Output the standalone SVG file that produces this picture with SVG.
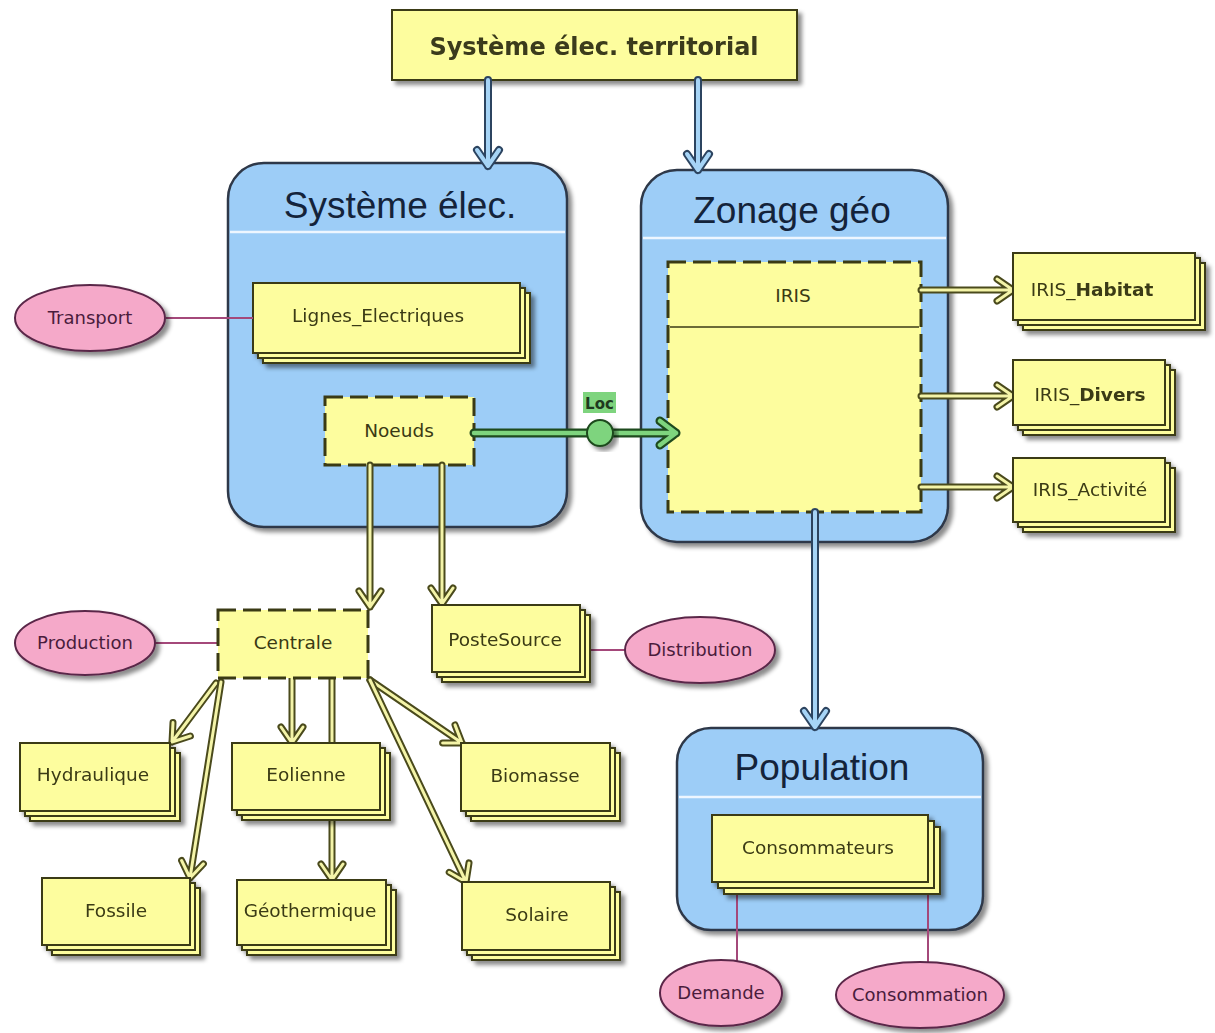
<svg xmlns="http://www.w3.org/2000/svg" xmlns:xlink="http://www.w3.org/1999/xlink" width="1215" height="1033" viewBox="0 0 1215 1033">
<style>
.bx{fill:#fdfd9e;stroke:#3a3a14;stroke-width:2}
.dbx{fill:#fdfd9e;stroke:#3a3a14;stroke-width:3;stroke-dasharray:18 7}
.ct{fill:#9dcdf7;stroke:#2e3848;stroke-width:2.5}
.sep{stroke:#eef6ff;stroke-width:2.5}
.el{fill:#f5a9c9;stroke:#5a2848;stroke-width:2}
.t{font-family:"DejaVu Sans",Verdana,sans-serif;font-size:18.5px;fill:#3a3a14;text-anchor:middle}
.te{font-family:"DejaVu Sans",Verdana,sans-serif;font-size:18px;fill:#4a1c3c;text-anchor:middle}
.ti{font-family:"Liberation Sans",Arial,sans-serif;font-size:37px;fill:#14233a;text-anchor:middle}
.yo{fill:none;stroke:#4a4a1c;stroke-width:7;stroke-linecap:round;stroke-linejoin:round}
.yi{fill:none;stroke:#f4f4a8;stroke-width:3;stroke-linecap:round;stroke-linejoin:round}
.bo{fill:none;stroke:#2c4460;stroke-width:8;stroke-linecap:round;stroke-linejoin:round}
.bi{fill:none;stroke:#a6d4f6;stroke-width:4;stroke-linecap:round;stroke-linejoin:round}
.go{fill:none;stroke:#1e4a1e;stroke-width:9;stroke-linecap:round;stroke-linejoin:round}
.gi{fill:none;stroke:#7ed47e;stroke-width:4.5;stroke-linecap:round;stroke-linejoin:round}
.pk{stroke:#a4487a;stroke-width:2;fill:none}
</style>
<defs>
<filter id="sh" x="-10%" y="-10%" width="130%" height="130%">
<feDropShadow dx="4" dy="4" stdDeviation="2" flood-color="#000" flood-opacity="0.45"/>
</filter>
<path id="a1" d="M370,465 L370,607 M359,591 L370,607 L381,591"/>
<path id="a2" d="M442,465 L442,604 M431,588 L442,604 L453,588"/>
<path id="a3" d="M216,683 L172,742 M190.4,736 L172,742 L173,722.6"/>
<path id="a4" d="M221,682 L190,878 M203.4,863.9 L190,878 L181.6,860.5"/>
<path id="a5" d="M292,678 L292,743 M281,727 L292,743 L303,727"/>
<path id="a6" d="M332,678 L332,880 M321,864 L332,880 L343,864"/>
<path id="a7" d="M370,680 L462,743 M442.6,743.1 L462,743 L455,724.9"/>
<path id="a8" d="M370,680 L466,882 M449.2,872.3 L466,882 L469,862.9"/>
<path id="a9" d="M921,290 L1013,290 M997,279 L1013,290 L997,301"/>
<path id="a10" d="M921,396 L1013,396 M997,385 L1013,396 L997,407"/>
<path id="a11" d="M921,487 L1013,487 M997,476 L1013,487 L997,498"/>
<path id="b1" d="M488,80 L488,166 M477,150 L488,166 L499,150"/>
<path id="b2" d="M698,80 L698,170 M687,154 L698,170 L709,154"/>
<path id="b3" d="M815,512 L815,727 M804,711 L815,727 L826,711"/>
<path id="g1" d="M474,433 L587,433 M613,433 L676,433 M660,421 L676,433 L660,445"/>
</defs>

<g id="territorial" filter="url(#sh)">
<rect x="392" y="10" width="405" height="70" fill="#fdfd9e" stroke="#3a3a14" stroke-width="2"/>
<text x="594" y="55" font-family="'DejaVu Sans',Verdana,sans-serif" font-size="24" font-weight="bold" fill="#3a3a1a" text-anchor="middle">Système élec. territorial</text>
</g>

<g id="systeme-elec">
<rect class="ct" x="228" y="163" width="339" height="364" rx="36" filter="url(#sh)"/>
<line class="sep" x1="230" y1="232" x2="565" y2="232"/>
<text class="ti" x="400" y="218">Système élec.</text>
</g>

<g id="zonage-geo">
<rect class="ct" x="641" y="170" width="307" height="372" rx="36" filter="url(#sh)"/>
<line class="sep" x1="643" y1="238" x2="946" y2="238"/>
<text class="ti" x="792" y="223">Zonage géo</text>
</g>

<g id="population">
<rect class="ct" x="677" y="728" width="306" height="202" rx="34" filter="url(#sh)"/>
<line class="sep" x1="679" y1="797" x2="981" y2="797"/>
<text class="ti" x="822" y="780">Population</text>
</g>

<g id="lignes-electriques" filter="url(#sh)">
<rect class="bx" x="263" y="293" width="267" height="70"/>
<rect class="bx" x="258" y="288" width="267" height="70"/>
<rect class="bx" x="253" y="283" width="267" height="70"/>
<text class="t" x="378" y="322">Lignes_Electriques</text>
</g>

<g id="noeuds">
<rect class="dbx" x="325" y="397" width="149" height="68"/>
<text class="t" x="399" y="437">Noeuds</text>
</g>

<g id="iris">
<rect class="dbx" x="668" y="262" width="253" height="250"/>
<line x1="670" y1="327" x2="919" y2="327" stroke="#3a3a14" stroke-width="1.5"/>
<text class="t" x="793" y="302">IRIS</text>
</g>

<g id="connectors">
<use href="#a1" class="yo"/><use href="#a1" class="yi"/>
<use href="#a2" class="yo"/><use href="#a2" class="yi"/>
<use href="#a3" class="yo"/><use href="#a3" class="yi"/>
<use href="#a4" class="yo"/><use href="#a4" class="yi"/>
<use href="#a5" class="yo"/><use href="#a5" class="yi"/>
<use href="#a6" class="yo"/><use href="#a6" class="yi"/>
<use href="#a7" class="yo"/><use href="#a7" class="yi"/>
<use href="#a8" class="yo"/><use href="#a8" class="yi"/>
<use href="#a9" class="yo"/><use href="#a9" class="yi"/>
<use href="#a10" class="yo"/><use href="#a10" class="yi"/>
<use href="#a11" class="yo"/><use href="#a11" class="yi"/>
<use href="#b1" class="bo"/><use href="#b1" class="bi"/>
<use href="#b2" class="bo"/><use href="#b2" class="bi"/>
<use href="#b3" class="bo"/><use href="#b3" class="bi"/>
<use href="#g1" class="go"/><use href="#g1" class="gi"/>
<circle cx="600" cy="433" r="13" fill="#7ed47e" stroke="#1e4a1e" stroke-width="2" filter="url(#sh)"/>
<rect x="583" y="392" width="33" height="21" fill="#7ed47e"/>
<text x="599.5" y="408.5" font-family="'DejaVu Sans',Verdana,sans-serif" font-size="15" font-weight="bold" fill="#1e3a1e" text-anchor="middle">Loc</text>
<line class="pk" x1="166" y1="318" x2="253" y2="318"/>
<line class="pk" x1="155" y1="643" x2="218" y2="643"/>
<line class="pk" x1="580" y1="650" x2="625" y2="650"/>
<line class="pk" x1="737" y1="885" x2="737" y2="961"/>
<line class="pk" x1="928" y1="885" x2="928" y2="962"/>
</g>

<g id="iris-habitat" filter="url(#sh)">
<rect class="bx" x="1023" y="263" width="182" height="67"/>
<rect class="bx" x="1018" y="258" width="182" height="67"/>
<rect class="bx" x="1013" y="253" width="182" height="67"/>
<text class="t" x="1092" y="296">IRIS_<tspan font-weight="bold">Habitat</tspan></text>
</g>

<g id="iris-divers" filter="url(#sh)">
<rect class="bx" x="1023" y="370" width="152" height="65"/>
<rect class="bx" x="1018" y="365" width="152" height="65"/>
<rect class="bx" x="1013" y="360" width="152" height="65"/>
<text class="t" x="1090" y="401">IRIS_<tspan font-weight="bold">Divers</tspan></text>
</g>

<g id="iris-activite" filter="url(#sh)">
<rect class="bx" x="1023" y="468" width="152" height="64"/>
<rect class="bx" x="1018" y="463" width="152" height="64"/>
<rect class="bx" x="1013" y="458" width="152" height="64"/>
<text class="t" x="1090" y="496">IRIS_Activité</text>
</g>

<g id="transport">
<ellipse class="el" cx="90" cy="318" rx="75" ry="33" filter="url(#sh)"/>
<text class="te" x="90" y="324">Transport</text>
</g>

<g id="centrale">
<rect class="dbx" x="218" y="610" width="150" height="68"/>
<text class="t" x="293" y="649">Centrale</text>
</g>

<g id="postesource" filter="url(#sh)">
<rect class="bx" x="442" y="615" width="148" height="67"/>
<rect class="bx" x="437" y="610" width="148" height="67"/>
<rect class="bx" x="432" y="605" width="148" height="67"/>
<text class="t" x="505" y="646">PosteSource</text>
</g>

<g id="production">
<ellipse class="el" cx="85" cy="643" rx="70" ry="32" filter="url(#sh)"/>
<text class="te" x="85" y="649">Production</text>
</g>

<g id="distribution">
<ellipse class="el" cx="700" cy="650" rx="75" ry="33" filter="url(#sh)"/>
<text class="te" x="700" y="656">Distribution</text>
</g>

<g id="hydraulique" filter="url(#sh)">
<rect class="bx" x="30" y="753" width="150" height="68"/>
<rect class="bx" x="25" y="748" width="150" height="68"/>
<rect class="bx" x="20" y="743" width="150" height="68"/>
<text class="t" x="93" y="781">Hydraulique</text>
</g>

<g id="eolienne" filter="url(#sh)">
<rect class="bx" x="242" y="753" width="148" height="67"/>
<rect class="bx" x="237" y="748" width="148" height="67"/>
<rect class="bx" x="232" y="743" width="148" height="67"/>
<text class="t" x="306" y="781">Eolienne</text>
</g>

<g id="biomasse" filter="url(#sh)">
<rect class="bx" x="471" y="753" width="149" height="68"/>
<rect class="bx" x="466" y="748" width="149" height="68"/>
<rect class="bx" x="461" y="743" width="149" height="68"/>
<text class="t" x="535" y="782">Biomasse</text>
</g>

<g id="fossile" filter="url(#sh)">
<rect class="bx" x="52" y="888" width="148" height="67"/>
<rect class="bx" x="47" y="883" width="148" height="67"/>
<rect class="bx" x="42" y="878" width="148" height="67"/>
<text class="t" x="116" y="917">Fossile</text>
</g>

<g id="geothermique" filter="url(#sh)">
<rect class="bx" x="247" y="890" width="149" height="65"/>
<rect class="bx" x="242" y="885" width="149" height="65"/>
<rect class="bx" x="237" y="880" width="149" height="65"/>
<text class="t" x="310" y="917">Géothermique</text>
</g>

<g id="solaire" filter="url(#sh)">
<rect class="bx" x="472" y="892" width="148" height="68"/>
<rect class="bx" x="467" y="887" width="148" height="68"/>
<rect class="bx" x="462" y="882" width="148" height="68"/>
<text class="t" x="537" y="921">Solaire</text>
</g>

<g id="consommateurs" filter="url(#sh)">
<rect class="bx" x="724" y="827" width="216" height="67"/>
<rect class="bx" x="718" y="821" width="216" height="67"/>
<rect class="bx" x="712" y="815" width="216" height="67"/>
<text class="t" x="818" y="854">Consommateurs</text>
</g>

<g id="demande">
<ellipse class="el" cx="721" cy="993" rx="61" ry="33" filter="url(#sh)"/>
<text class="te" x="721" y="999">Demande</text>
</g>

<g id="consommation">
<ellipse class="el" cx="920" cy="995" rx="84" ry="33" filter="url(#sh)"/>
<text class="te" x="920" y="1001">Consommation</text>
</g>
</svg>
